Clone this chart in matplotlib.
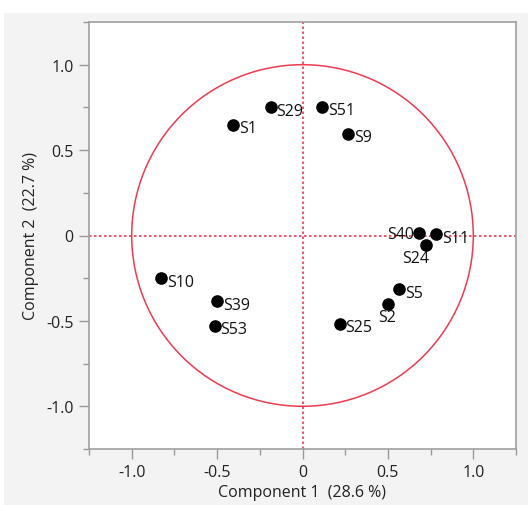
import matplotlib
matplotlib.use("Agg")
import matplotlib.pyplot as plt
from matplotlib.patches import Circle, Rectangle
import numpy as np

labels = ["S1", "S29", "S51", "S9", "S40", "S11", "S24", "S10", "S39", "S53", "S25", "S2", "S5"]
comp1 = [-0.406, -0.187, 0.117, 0.267, 0.680, 0.784, 0.723, -0.827, -0.498, -0.513, 0.219, 0.498, 0.567]
comp2 = [0.647, 0.750, 0.754, 0.596, 0.015, 0.008, -0.055, -0.251, -0.386, -0.529, -0.517, -0.402, -0.316]
# label placement: (dx, dy, ha, va) in points
label_pos = {"S40": (-3, -1, "right", "center"), "S24": (2, -4, "right", "top"),
             "S2": (0, -3.5, "center", "top")}
xticks = [-1.0, -0.5, 0, 0.5, 1.0]
xticklabels = ["-1.0", "-0.5", "0", "0.5", "1.0"]

plt.rcParams['font.family'] = ['Open Sans', 'DejaVu Sans']
fig = plt.figure(figsize=(5.28, 5.06), dpi=100)
fig.patch.set_facecolor("white")
bg = Rectangle((4/528, 0), 1, 1 - 14/506, transform=fig.transFigure,
               facecolor="#f3f3f3", edgecolor="none", zorder=-10)
fig.add_artist(bg)
ax = fig.add_axes([89/528, 1 - 450/506, (516 - 89)/528, (450 - 23)/506])
ax.set_zorder(1)
ax.set_facecolor("white")
red = "#ee3b4f"
ax.add_patch(Circle((0, 0), 1.0, fill=False, edgecolor=red, linewidth=1.1, zorder=2))
ax.axhline(0, color=red, linestyle=(0, (1.5, 1.5)), linewidth=1.2, zorder=2)
ax.axvline(0, color=red, linestyle=(0, (1.5, 1.5)), linewidth=1.2, zorder=2)
ax.scatter(comp1, comp2, s=65, color="black", zorder=3)
fs = 11.5
for lab, x, y in zip(labels, comp1, comp2):
    dx, dy, ha, va = label_pos.get(lab, (4, -2.5, "left", "center"))
    ax.annotate(lab, (x, y), xytext=(dx, dy), textcoords="offset points",
                ha=ha, va=va, fontsize=fs, color="#111111", zorder=4)
ax.set_xlim(-1.25, 1.25)
ax.set_ylim(-1.25, 1.25)
ax.set_xticks(xticks)
ax.set_xticklabels(xticklabels)
ax.set_yticks(xticks)
ax.set_yticklabels(xticklabels)
ax.set_xticks([-1.25, -0.75, -0.25, 0.25, 0.75, 1.25], minor=True)
ax.set_yticks([-1.25, -0.75, -0.25, 0.25, 0.75, 1.25], minor=True)
ax.tick_params(which="major", length=7, width=1, color="#9a9a9a", labelsize=fs,
               labelcolor="#222222", pad=4)
ax.tick_params(which="minor", length=4, width=1, color="#9a9a9a")
ax.xaxis.get_major_ticks()[2].tick1line.set_color(red)
ax.yaxis.get_major_ticks()[2].tick1line.set_color(red)
for s in ax.spines.values():
    s.set_color("#a0a0a0")
    s.set_linewidth(1.2)
ax.set_xlabel("Component 1  (28.6 %)", fontsize=fs, color="#222222", labelpad=3)
ax.set_ylabel("Component 2  (22.7 %)", fontsize=fs, color="#222222", labelpad=5)
fig.savefig("out.png", dpi=100)
